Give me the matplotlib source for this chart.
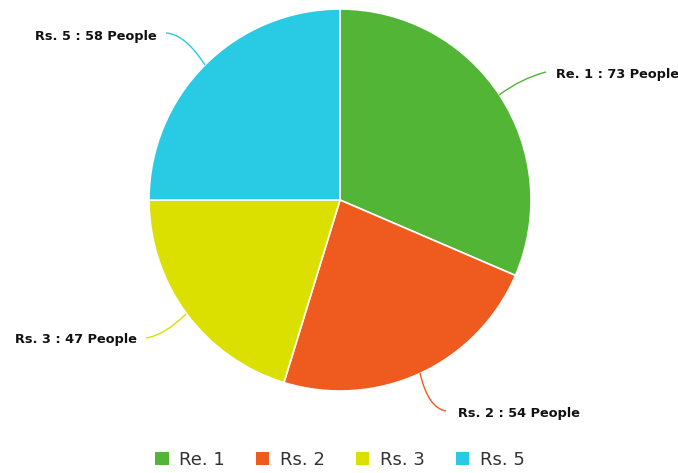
import matplotlib.pyplot as plt
from matplotlib.path import Path
from matplotlib.patches import PathPatch, Patch

labels = ['Re. 1', 'Rs. 2', 'Rs. 3', 'Rs. 5']
people = [73, 54, 47, 58]
colors = ['#52b535', '#ef5a1f', '#dce000', '#29cbe4']

W, H = 678, 473
fig = plt.figure(figsize=(W / 100, H / 100), dpi=100)
ax = fig.add_axes([0, 0, 1, 1])

# pie centred at (340, 200) from the top-left, radius 191 px
cx, cy, r = 340, H - 200, 191
wedges, _ = ax.pie(people, colors=colors, startangle=90, counterclock=False,
                   center=(cx, cy), radius=r, frame=True,
                   wedgeprops=dict(edgecolor='white', linewidth=1.2))
ax.set_xlim(0, W)
ax.set_ylim(0, H)
ax.set_aspect('equal')
ax.axis('off')

# data labels with soft curved connectors (pixel coords, y from top)
lab_specs = [
    # text x, text y, ha, curve start, control, curve end
    (556, 75, 'left', (499, 95), (522, 78), (546, 72)),
    (458, 414, 'left', (420, 373), (428, 408), (446, 411)),
    (137, 340, 'right', (186, 314), (165, 335), (146, 338)),
    (157, 37, 'right', (205, 65), (185, 34), (166, 33)),
]
for (tx, ty, ha, p0, p1, p2), lab, n, c in zip(lab_specs, labels, people, colors):
    verts = [(p0[0], H - p0[1]), (p1[0], H - p1[1]), (p2[0], H - p2[1])]
    path = Path(verts, [Path.MOVETO, Path.CURVE3, Path.CURVE3])
    ax.add_patch(PathPatch(path, facecolor='none', edgecolor=c, linewidth=1))
    ax.text(tx, H - ty, '{0} : {1} People'.format(lab, n), ha=ha, va='center',
            fontsize=9.3, fontweight='bold', color='#111111',
            family='DejaVu Sans')

handles = [Patch(facecolor=c, edgecolor='none') for c in colors]
fig.legend(handles, labels, loc='center', bbox_to_anchor=(340 / W, 1 - 460 / H),
           ncol=4, frameon=False, handlelength=0.75,
           handleheight=0.75, handletextpad=0.6, columnspacing=1.7,
           prop={'family': 'DejaVu Sans', 'size': 13}, labelcolor='#333333')

fig.savefig('out.png', dpi=100, facecolor='white')
